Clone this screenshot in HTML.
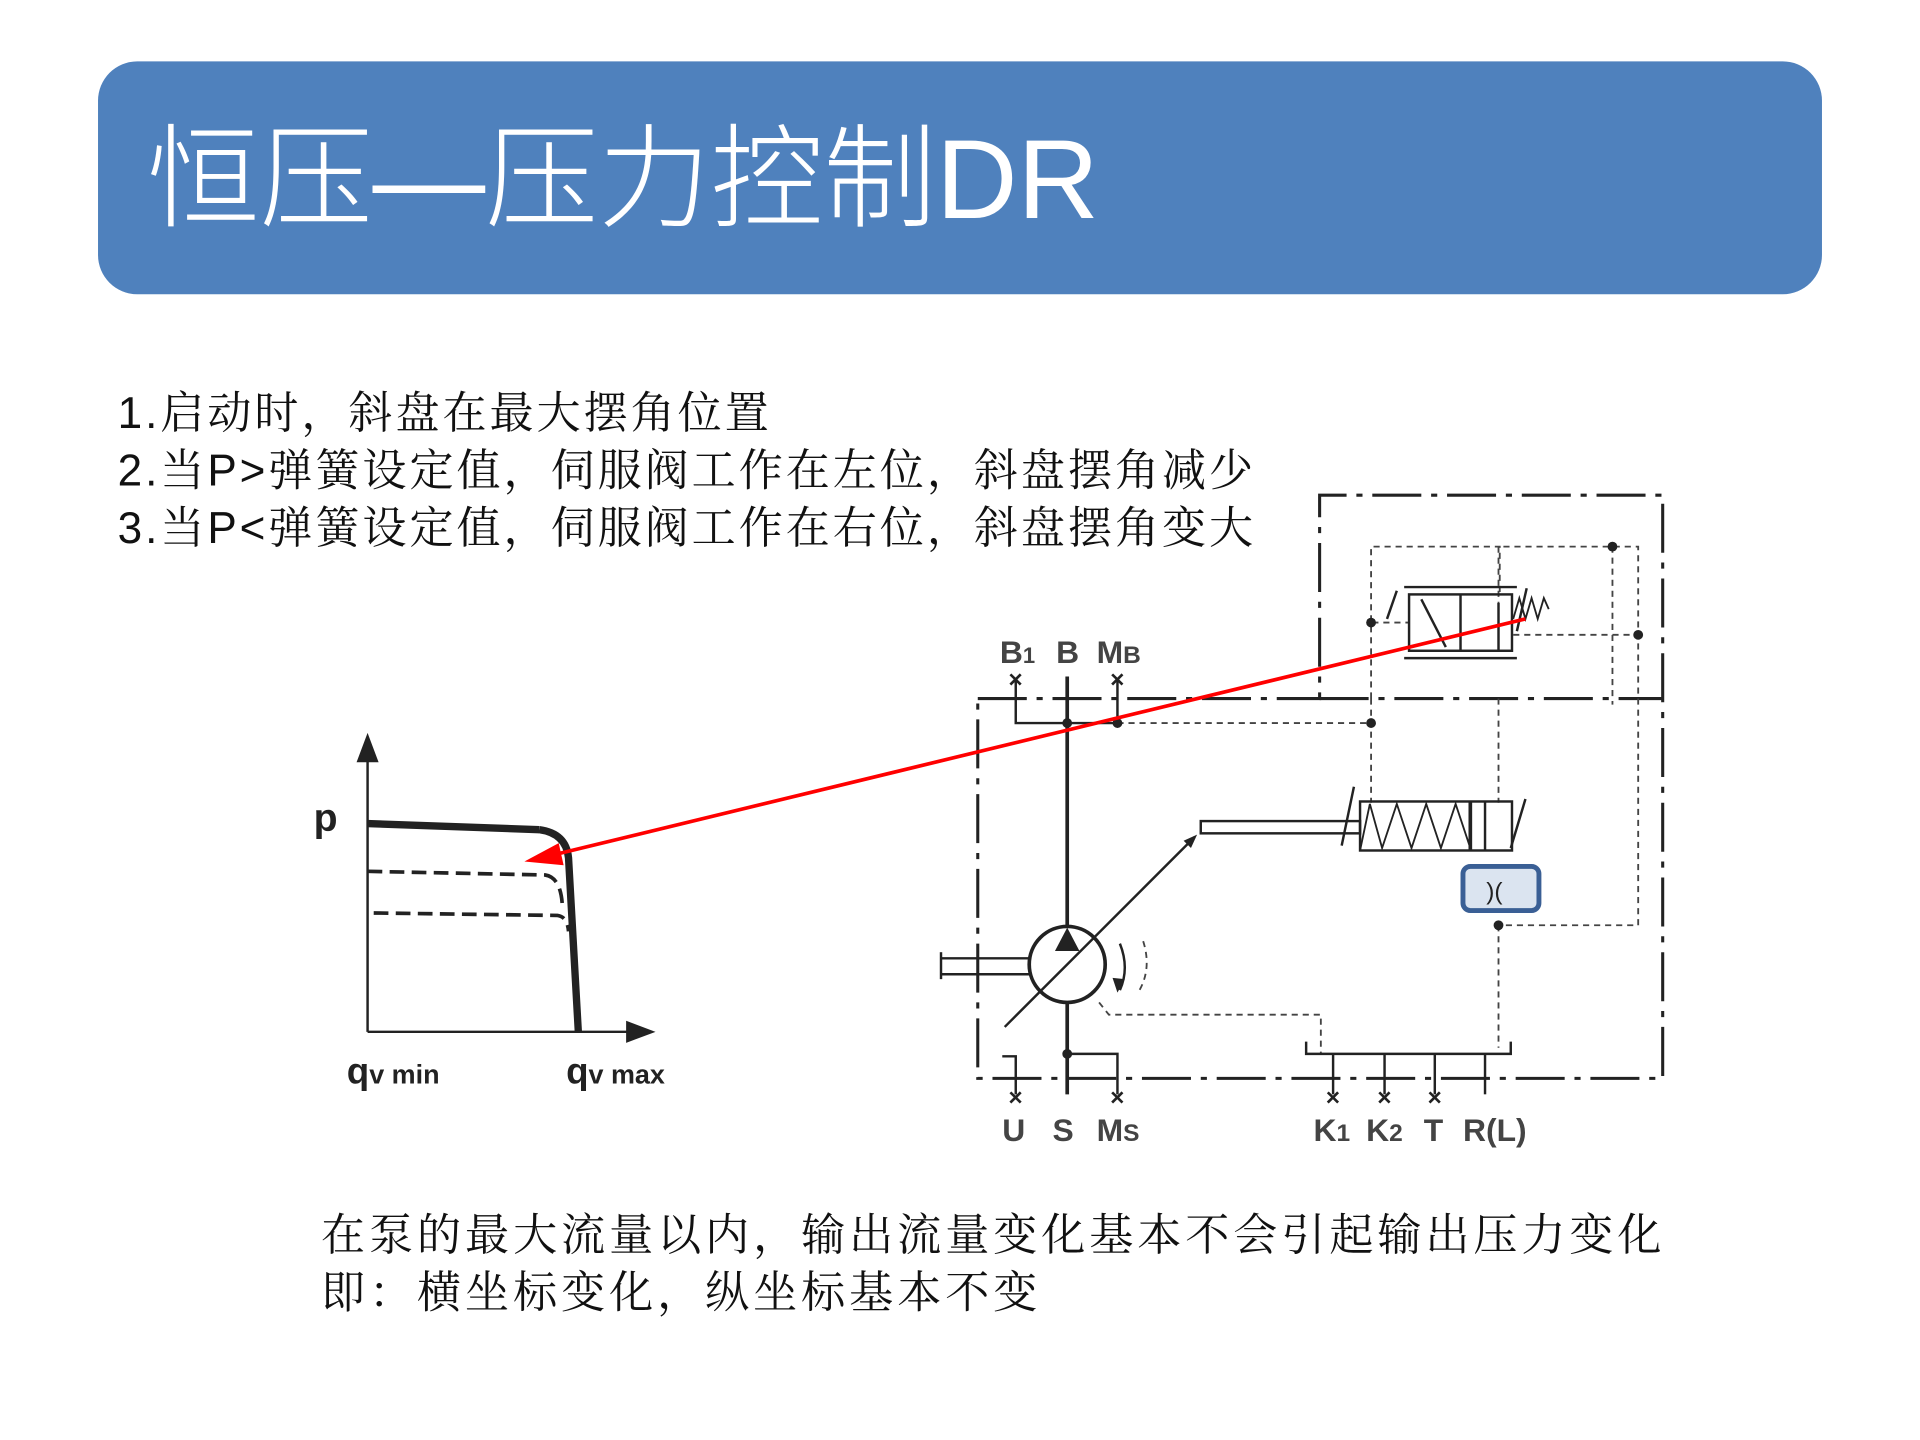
<!DOCTYPE html>
<html><head><meta charset="utf-8"><style>
html,body{margin:0;padding:0;background:#fff}
svg{display:block}
</style></head><body>
<svg width="1920" height="1440" viewBox="0 0 1567 1175" xmlns="http://www.w3.org/2000/svg">
<rect x="80" y="50" width="1407" height="190" rx="32" fill="#4f81bd"/>
<text x="120" y="178" fill="#fff" font-size="92" font-family="Liberation Sans, Noto Sans CJK SC, sans-serif" font-weight="300">恒压—压力控制DR</text>
<g font-family="Liberation Sans, Noto Serif CJK SC, serif" font-size="36" fill="#111" letter-spacing="2.4">
<text x="96" y="349">1.启动时，斜盘在最大摆角位置</text>
<text x="96" y="396">2.当P&gt;弹簧设定值，伺服阀工作在左位，斜盘摆角减少</text>
<text x="96" y="443">3.当P&lt;弹簧设定值，伺服阀工作在右位，斜盘摆角变大</text>
</g>
<g font-family="Liberation Sans, Noto Serif CJK SC, serif" font-size="36" fill="#111" letter-spacing="3.2">
<text x="262" y="1020">在泵的最大流量以内，输出流量变化基本不会引起输出压力变化</text>
<text x="262" y="1067">即：横坐标变化，纵坐标基本不变</text>
</g>
<!-- graph -->
<g stroke="#222" fill="none">
<line x1="300" y1="842" x2="300" y2="615" stroke-width="2"/>
<line x1="300" y1="842" x2="518" y2="842" stroke-width="2"/>
<polyline points="300,672 440,677" stroke-width="6"/>
<path d="M440,677 Q462,680 464,700 L472,842" stroke-width="6"/>
<path d="M300,711 L445,714 Q458,716 459,740" stroke-width="3" stroke-dasharray="12,6"/>
<path d="M305,745 L455,747 Q463,748 464,760" stroke-width="3" stroke-dasharray="12,6"/>
</g>
<polygon points="300,598 291,622 309,622" fill="#222"/>
<polygon points="535,842 511,833 511,851" fill="#222"/>
<g font-family="Liberation Sans, sans-serif" font-weight="bold" fill="#222">
<text x="256" y="678" font-size="32">p</text>
<text x="283" y="884" font-size="30">q<tspan font-size="22">v min</tspan></text>
<text x="462" y="884" font-size="30">q<tspan font-size="22">v max</tspan></text>
</g>
<!-- diagram -->
<g stroke="#222" fill="none" stroke-width="2.5" stroke-dasharray="40,8,5,8">
<polyline points="798,570 1077,570 1077,404 1357,404 1357,880 798,880 798,570"/>
<line x1="1077" y1="570" x2="1357" y2="570"/>
</g>
<g stroke="#444" fill="none" stroke-width="1.5" stroke-dasharray="5,4">
<polyline points="1119,570 1119,446 1224,446 1224,485"/>
<polyline points="1223,532 1223,446 1337,446 1337,755 1223,755"/>
<line x1="1316" y1="446" x2="1316" y2="575"/>
<line x1="1235" y1="518" x2="1337" y2="518"/>
<line x1="912" y1="590" x2="1119" y2="590"/>
<line x1="1119" y1="570" x2="1119" y2="655"/>
<line x1="1223" y1="570" x2="1223" y2="655"/>
<line x1="1223" y1="755" x2="1223" y2="855"/>
<polyline points="897,818 905,828 1078,828 1078,860"/>
<line x1="1120" y1="508" x2="1150" y2="508"/>
<path d="M933,768 Q940,790 930,808"/>
</g>
<g stroke="#222" fill="none" stroke-width="2">
<line x1="871" y1="552" x2="871" y2="755" stroke-width="3"/>
<line x1="871" y1="818" x2="871" y2="893" stroke-width="3"/>
<polyline points="829,555 829,590 912,590 912,555"/>
<polyline points="871,860 912,860 912,893"/>
<polyline points="818,862 829,862 829,893"/>
<circle cx="871" cy="787" r="31" stroke-width="3"/>
<line x1="820" y1="838" x2="975" y2="683"/>
<line x1="768" y1="782" x2="840" y2="782"/><line x1="768" y1="795" x2="840" y2="795"/><line x1="768" y1="777" x2="768" y2="799"/>
<rect x="980" y="670" width="130" height="10"/>
<rect x="1110" y="654" width="124" height="40"/>
<line x1="1200" y1="654" x2="1200" y2="694" stroke-width="3"/>
<line x1="1212" y1="654" x2="1212" y2="694"/>
<polyline points="1110,694 1118,656 1128,692 1140,656 1152,692 1164,656 1176,692 1188,656 1200,692" stroke-width="1.5"/>
<line x1="1095" y1="690" x2="1105" y2="642"/>
<line x1="1233" y1="692" x2="1245" y2="652"/>
<rect x="1150" y="485" width="84" height="46"/>
<line x1="1192" y1="485" x2="1192" y2="531"/>
<line x1="1146" y1="479" x2="1238" y2="479"/><line x1="1146" y1="537" x2="1238" y2="537"/>
<line x1="1160" y1="489" x2="1180" y2="528"/>
<line x1="1223" y1="531" x2="1223" y2="492"/>
<polyline points="1235,505 1240,488 1245,505 1250,488 1255,505 1260,488 1264,497" stroke-width="1.5"/>
<line x1="1132" y1="505" x2="1140" y2="482"/>
<line x1="1238" y1="515" x2="1246" y2="480"/>
<polyline points="1066,850 1066,860 1233,860 1233,850"/>
<line x1="1088" y1="860" x2="1088" y2="893"/><line x1="1130" y1="860" x2="1130" y2="893"/><line x1="1171" y1="860" x2="1171" y2="893"/><line x1="1212" y1="860" x2="1212" y2="893"/>
<path d="M914,770 Q922,790 914,808" />
</g>
<polygon points="871,757 861,776 881,776" fill="#222"/>
<polygon points="977,681 966,686 972,692" fill="#222"/>
<polygon points="912,810 908,798 918,799" fill="#222"/>
<g fill="#222">
<circle cx="871" cy="590" r="4"/><circle cx="912" cy="590" r="4"/><circle cx="1119" cy="590" r="4"/>
<circle cx="1119" cy="508" r="4"/><circle cx="1316" cy="446" r="4"/><circle cx="1337" cy="518" r="4"/>
<circle cx="1223" cy="755" r="4"/><circle cx="871" cy="860" r="4"/>
</g>
<rect x="1194" y="707" width="62" height="36" rx="6" fill="#dbe4f0" stroke="#3a5f95" stroke-width="4"/>
<text x="1213" y="734" font-size="20" font-family="Liberation Sans, sans-serif" fill="#222">)(</text>
<g font-family="Liberation Sans, sans-serif" font-weight="bold" fill="#444" font-size="26">
<text x="816" y="541">B<tspan font-size="18">1</tspan></text>
<text x="862" y="541">B</text>
<text x="895" y="541">M<tspan font-size="20">B</tspan></text>
<text x="818" y="931">U</text><text x="859" y="931">S</text>
<text x="895" y="931">M<tspan font-size="20">S</tspan></text>
<text x="1072" y="931">K<tspan font-size="20">1</tspan></text>
<text x="1115" y="931">K<tspan font-size="20">2</tspan></text>
<text x="1162" y="931">T</text>
<text x="1194" y="931">R(L)</text>
</g>
<g font-family="Liberation Sans, sans-serif" font-size="20" font-weight="bold" fill="#222">
<text x="823" y="561">×</text><text x="906" y="561">×</text>
<text x="823" y="902">×</text><text x="906" y="902">×</text>
<text x="1082" y="902">×</text><text x="1124" y="902">×</text><text x="1165" y="902">×</text>
</g>
<line x1="1245" y1="505" x2="450" y2="698" stroke="#f00" stroke-width="3"/>
<polygon points="428,703 456,688 460,706" fill="#f00"/>
</svg>
</body></html>
